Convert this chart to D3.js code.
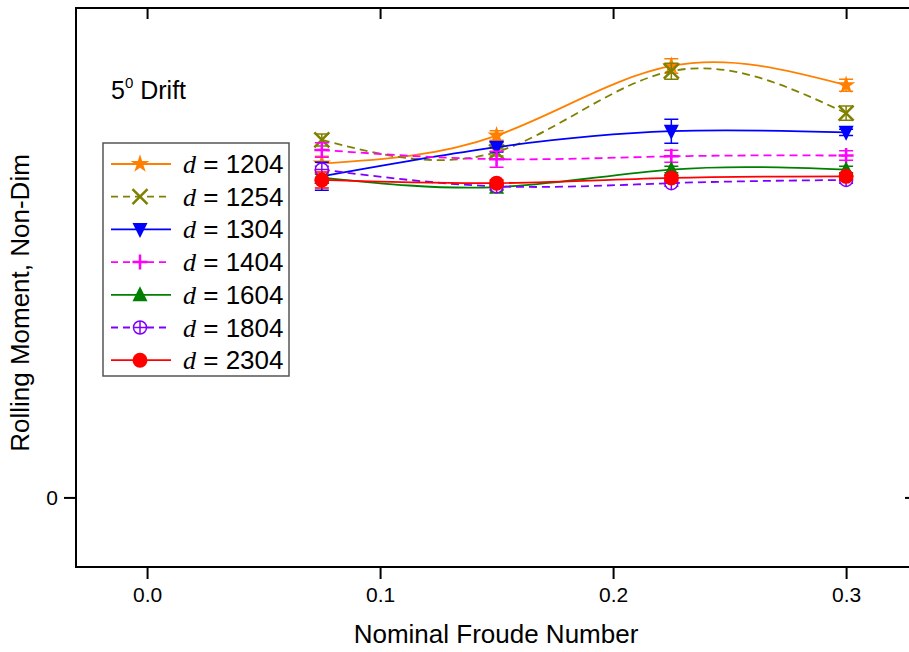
<!DOCTYPE html>
<html>
<head>
<meta charset="utf-8">
<script src="https://cdn.jsdelivr.net/npm/d3@7"></script>
<style>
  body { margin: 0; background: #fff; }
  svg { display: block; font-family: "Liberation Sans", Arial, Helvetica, sans-serif; }
</style>
</head>
<body>
<div id="chart"></div>
<script>
// Froude numbers (x) shared by every series
const froude = [0.075, 0.15, 0.225, 0.3];

// Series names (d values)
const seriesNames = ["1204", "1254", "1304", "1404", "1604", "1804", "2304"];

// Rolling moment values, non-dim
const m1204 = [0.0835, 0.0905, 0.1079, 0.1031];
const m1254 = [0.0894, 0.0864, 0.1066, 0.0961];
const m1304 = [0.0803, 0.0876, 0.0916, 0.0913];
const m1404 = [0.0869, 0.0846, 0.0853, 0.0855];
const m1604 = [0.0800, 0.0776, 0.0820, 0.0820];
const m1804 = [0.0820, 0.0778, 0.0786, 0.0794];
const m2304 = [0.0794, 0.0786, 0.0799, 0.0803];

// Error bar half-heights
const e1204 = [0.0018, 0.0012, 0.0018, 0.0015];
const e1254 = [0.0015, 0.0010, 0.0020, 0.0018];
const e1304 = [0.0035, 0.0012, 0.0030, 0.0008];
const e1404 = [0.0018, 0.0020, 0.0015, 0.0012];
const e1604 = [0.0008, 0.0008, 0.0008, 0.0008];
const e1804 = [0.0008, 0.0008, 0.0008, 0.0008];
const e2304 = [0.0020, 0.0008, 0.0008, 0.0008];

const xTicks = [0.0, 0.1, 0.2, 0.3];
const yTicks = [0];

const values = [m1204, m1254, m1304, m1404, m1604, m1804, m2304];
const errors = [e1204, e1254, e1304, e1404, e1604, e1804, e2304];
const colors = ["#ff8000", "#808000", "#0000ff", "#ff00ff", "#008000", "#8000ff", "#ff0000"];
const dashed = [false, true, false, true, false, true, false];
const markers = ["star", "x", "tridown", "plus", "triup", "circplus", "dot"];

const W = 909, H = 652;
const plot = {left: 76, top: 8, right: 916, bottom: 567};

const svg = d3.select("#chart").append("svg")
  .attr("width", W)
  .attr("height", H);

const x = d3.scaleLinear().domain([-0.0305, 0.33]).range([plot.left, plot.right]);
const y = d3.scaleLinear().domain([-0.0174, 0.1224]).range([plot.bottom, plot.top]);

svg.append("clipPath").attr("id", "clip")
  .append("rect")
  .attr("x", plot.left).attr("y", plot.top)
  .attr("width", plot.right - plot.left).attr("height", plot.bottom - plot.top);

// Frame
svg.append("rect")
  .attr("x", plot.left).attr("y", plot.top)
  .attr("width", plot.right - plot.left).attr("height", plot.bottom - plot.top)
  .attr("fill", "none").attr("stroke", "#000").attr("stroke-width", 2);

// Bottom axis (outward ticks)
const xAxis = svg.append("g")
  .attr("transform", `translate(0,${plot.bottom})`)
  .call(d3.axisBottom(x).tickValues(xTicks).tickFormat(d3.format(".1f")).tickSize(12).tickPadding(8));
xAxis.select(".domain").remove();
xAxis.selectAll("line").attr("stroke-width", 2);
xAxis.selectAll("text").style("font-size", "21px").style("font-family", "Liberation Sans, Arial, sans-serif");

// Top axis (inward ticks)
const xTop = svg.append("g")
  .attr("transform", `translate(0,${plot.top})`)
  .call(d3.axisTop(x).tickValues(xTicks).tickSize(-11).tickFormat(""));
xTop.select(".domain").remove();
xTop.selectAll("line").attr("stroke-width", 2);

// Left axis
const yAxis = svg.append("g")
  .attr("transform", `translate(${plot.left},0)`)
  .call(d3.axisLeft(y).tickValues(yTicks).tickFormat(d3.format("d")).tickSize(12).tickPadding(6));
yAxis.select(".domain").remove();
yAxis.selectAll("line").attr("stroke-width", 2);
yAxis.selectAll("text").style("font-size", "21px").style("font-family", "Liberation Sans, Arial, sans-serif");

// Right axis (inward ticks)
const yRight = svg.append("g")
  .attr("transform", `translate(${plot.right},0)`)
  .call(d3.axisRight(y).tickValues(yTicks).tickSize(-11).tickFormat(""));
yRight.select(".domain").remove();
yRight.selectAll("line").attr("stroke-width", 2);

// Axis titles
svg.append("text")
  .attr("x", 496).attr("y", 643)
  .attr("text-anchor", "middle")
  .style("font-size", "26px")
  .text("Nominal Froude Number");

svg.append("text")
  .attr("transform", "rotate(-90)")
  .attr("x", -303).attr("y", 29)
  .attr("text-anchor", "middle")
  .style("font-size", "26px")
  .text("Rolling Moment, Non-Dim");

// Annotation
const ann = svg.append("text")
  .attr("x", 111).attr("y", 99)
  .style("font-size", "25px");
ann.append("tspan").text("5");
ann.append("tspan").attr("dy", -11).style("font-size", "15px").text("0");
ann.append("tspan").attr("dy", 11).text(" Drift");

// Marker drawing
function drawMarker(g, type, color) {
  const s = 7.5;
  if (type === "star") {
    g.append("path").attr("d", d3.symbol(d3.symbolStar, 105)()).attr("fill", color);
  } else if (type === "x") {
    g.append("path").attr("d", `M${-s},${-s}L${s},${s}M${-s},${s}L${s},${-s}`)
      .attr("stroke", color).attr("stroke-width", 2.5).attr("fill", "none");
  } else if (type === "tridown") {
    g.append("path").attr("d", `M${-s},${-s + 1}L${s},${-s + 1}L0,${s + 1}Z`).attr("fill", color);
  } else if (type === "triup") {
    g.append("path").attr("d", `M${-s},${s - 1}L${s},${s - 1}L0,${-s - 1}Z`).attr("fill", color);
  } else if (type === "plus") {
    g.append("path").attr("d", `M${-s},0L${s},0M0,${-s}L0,${s}`)
      .attr("stroke", color).attr("stroke-width", 2.5).attr("fill", "none");
  } else if (type === "circplus") {
    g.append("circle").attr("r", 6.5).attr("fill", "#fff").attr("stroke", color).attr("stroke-width", 1.5);
    g.append("path").attr("d", "M-6.5,0L6.5,0M0,-6.5L0,6.5")
      .attr("stroke", color).attr("stroke-width", 1.5);
  } else if (type === "dot") {
    g.append("circle").attr("r", 7.5).attr("fill", color);
  }
}

const line = d3.line()
  .x(d => x(d[0]))
  .y(d => y(d[1]))
  .curve(d3.curveNatural);

const dataLayer = svg.append("g").attr("clip-path", "url(#clip)");

seriesNames.forEach((name, i) => {
  const pts = froude.map((f, j) => [f, values[i][j], errors[i][j]]);
  const g = dataLayer.append("g");

  g.append("path")
    .datum(pts)
    .attr("d", line)
    .attr("fill", "none")
    .attr("stroke", colors[i])
    .attr("stroke-width", 1.8)
    .attr("stroke-dasharray", dashed[i] ? "8,5" : null);

  // Error bars
  pts.forEach(p => {
    const cx = x(p[0]);
    const y1 = y(p[1] + p[2]), y2 = y(p[1] - p[2]);
    g.append("path")
      .attr("d", `M${cx},${y1}L${cx},${y2}M${cx - 7},${y1}L${cx + 7},${y1}M${cx - 7},${y2}L${cx + 7},${y2}`)
      .attr("stroke", colors[i])
      .attr("stroke-width", 1.5)
      .attr("fill", "none");
    drawMarker(g.append("g").attr("transform", `translate(${cx},${y(p[1])})`), markers[i], colors[i]);
  });
});

// Legend
const legend = svg.append("g");
legend.append("rect")
  .attr("x", 103).attr("y", 143)
  .attr("width", 186).attr("height", 233)
  .attr("fill", "#fff").attr("stroke", "#555").attr("stroke-width", 1.5);

seriesNames.forEach((name, i) => {
  const ly = 164 + i * 32.7;
  legend.append("line")
    .attr("x1", 111).attr("x2", 171)
    .attr("y1", ly).attr("y2", ly)
    .attr("stroke", colors[i])
    .attr("stroke-width", 1.8)
    .attr("stroke-dasharray", dashed[i] ? "7,5" : null);
  drawMarker(legend.append("g").attr("transform", `translate(140,${ly})`), markers[i], colors[i]);
  const t = legend.append("text")
    .attr("x", 183).attr("y", ly + 9)
    .style("font-size", "26px");
  t.append("tspan")
    .style("font-family", "Liberation Serif, Times New Roman, serif")
    .style("font-style", "italic")
    .text("d");
  t.append("tspan").text(" = " + name);
});
</script>
</body>
</html>
